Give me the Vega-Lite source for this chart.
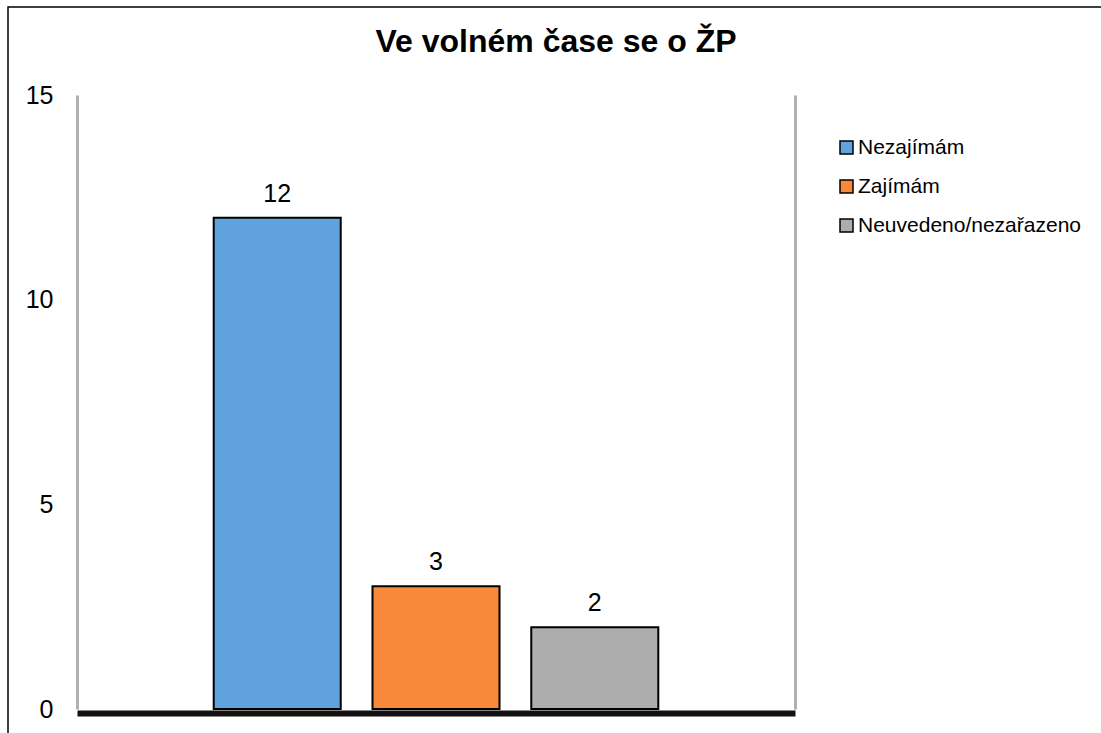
{
  "$schema": "https://vega.github.io/schema/vega-lite/v6.json",
  "width": 1096,
  "height": 729,
  "autosize": {"type": "none"},
  "padding": {"left": 8, "top": 7, "right": -3, "bottom": -3},
  "background": "white",
  "title": {
    "text": "Ve volném čase se o  ŽP",
    "font": "Liberation Sans",
    "fontSize": 32,
    "fontWeight": "bold",
    "color": "black",
    "anchor": "middle",
    "frame": "group",
    "orient": "top",
    "baseline": "alphabetic",
    "offset": -77
  },
  "config": {
    "view": {"stroke": "black", "strokeWidth": 1.5},
    "font": "Liberation Sans"
  },
  "data": {
    "values": [
      {"kategorie": "Nezajímám", "pocet": 12},
      {"kategorie": "Zajímám", "pocet": 3},
      {"kategorie": "Neuvedeno/nezařazeno", "pocet": 2}
    ]
  },
  "encoding": {
    "x": {
      "field": "kategorie",
      "type": "nominal",
      "sort": null,
      "scale": {"range": [69, 787], "paddingInner": 0.2, "paddingOuter": 0.861},
      "axis": {
        "orient": "bottom",
        "offset": -23,
        "labels": false,
        "ticks": false,
        "title": null,
        "domainColor": "#111111",
        "domainWidth": 6
      }
    },
    "y": {
      "field": "pocet",
      "type": "quantitative",
      "scale": {"domain": [0, 15], "range": [702, 88], "nice": false, "zero": true}
    }
  },
  "layer": [
    {
      "mark": {"type": "bar", "stroke": "black", "strokeWidth": 2, "opacity": 1},
      "encoding": {
        "y": {
          "field": "pocet",
          "type": "quantitative",
          "axis": {
            "orient": "left",
            "offset": -69,
            "values": [0, 5, 10, 15],
            "grid": false,
            "ticks": false,
            "tickSize": 0,
            "title": null,
            "labelPadding": 24,
            "labelFont": "Liberation Sans",
            "labelFontSize": 25,
            "labelColor": "black",
            "domainColor": "#b0b0b0",
            "domainWidth": 3
          }
        },
        "color": {
          "field": "kategorie",
          "type": "nominal",
          "sort": null,
          "scale": {
            "domain": ["Nezajímám", "Zajímám", "Neuvedeno/nezařazeno"],
            "range": ["#5fa2de", "#f8883a", "#adadad"]
          },
          "legend": {
            "orient": "none",
            "legendX": 828,
            "legendY": 130,
            "title": null,
            "padding": 0,
            "symbolType": "square",
            "symbolSize": 169,
            "symbolStrokeColor": "black",
            "symbolStrokeWidth": 1.5,
            "symbolOpacity": 1,
            "labelFont": "Liberation Sans",
            "labelFontSize": 21,
            "labelColor": "black",
            "labelOffset": 1,
            "rowPadding": 17,
            "labelLimit": 400
          }
        }
      }
    },
    {
      "mark": {
        "type": "text",
        "baseline": "alphabetic",
        "dy": -16,
        "font": "Liberation Sans",
        "fontSize": 25,
        "color": "black"
      },
      "encoding": {
        "text": {"field": "pocet", "type": "quantitative"},
        "y": {
          "field": "pocet",
          "type": "quantitative",
          "axis": {
            "orient": "right",
            "offset": -309,
            "labels": false,
            "ticks": false,
            "grid": false,
            "title": null,
            "domainColor": "#b0b0b0",
            "domainWidth": 3
          }
        }
      }
    }
  ],
  "resolve": {"axis": {"y": "independent"}}
}
